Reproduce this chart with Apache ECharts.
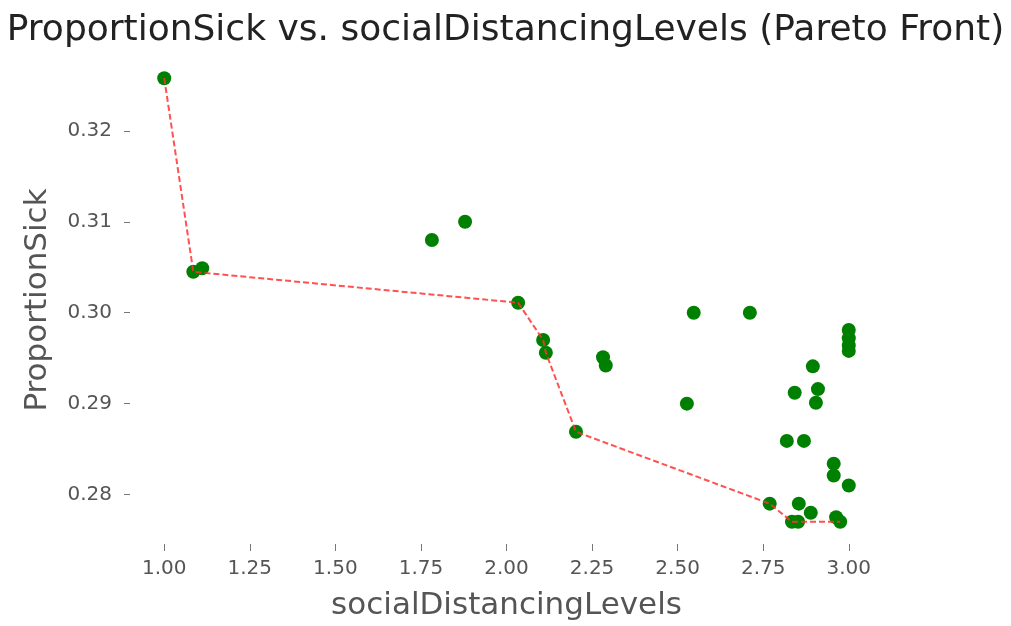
<!DOCTYPE html>
<html>
<head>
<meta charset="utf-8">
<script src="https://cdn.jsdelivr.net/npm/echarts@6/dist/echarts.min.js"></script>
<style>html,body{margin:0;padding:0;background:#fff;}#c{width:1011px;height:626px;}</style>
</head>
<body>
<div id="c"></div>
<script>
const titleText = "ProportionSick vs. socialDistancingLevels (Pareto Front)";
const xName = "socialDistancingLevels";
const yName = "ProportionSick";

const socialDistancing = [1.000, 1.085, 1.111, 1.782, 1.879, 2.034, 2.107, 2.115, 2.282, 2.290,
  2.527, 2.547, 2.711, 2.203, 2.769, 2.842, 2.819, 2.869, 2.895, 2.910, 2.904,
  3.000, 3.000, 3.000, 3.000, 2.956, 2.956, 3.000, 2.854, 2.889, 2.834, 2.852, 2.963, 2.975];
const proportionSick = [0.3258, 0.3045, 0.3049, 0.3080, 0.3100, 0.3011, 0.2970, 0.2956, 0.2951, 0.2942,
  0.2900, 0.3000, 0.3000, 0.2869, 0.2790, 0.2912, 0.2859, 0.2859, 0.2941, 0.2916, 0.2901,
  0.2981, 0.2972, 0.2964, 0.2958, 0.2834, 0.2821, 0.2810, 0.2790, 0.2780, 0.2770, 0.2770, 0.2775, 0.2770];

const paretoX = [1.000, 1.085, 2.034, 2.107, 2.115, 2.203, 2.769, 2.834, 2.975];
const paretoY = [0.3258, 0.3045, 0.3011, 0.2970, 0.2956, 0.2869, 0.2790, 0.2770, 0.2770];

const xTicks = [1.00, 1.25, 1.50, 1.75, 2.00, 2.25, 2.50, 2.75, 3.00];
const yTicks = [0.28, 0.29, 0.30, 0.31, 0.32];

const chart = echarts.init(document.getElementById('c'));
const font = 'DejaVu Sans';
chart.setOption({
  animation: false,
  backgroundColor: '#fff',
  title: {
    text: titleText, left: 'center', top: 8,
    textStyle: {fontFamily: font, fontSize: 36, fontWeight: 'normal', color: '#222'}
  },
  grid: {left: 130, right: 128, top: 56, bottom: 81},
  xAxis: {
    type: 'value', min: 0.9, max: 3.1,
    name: xName, nameLocation: 'middle', nameGap: 46,
    nameTextStyle: {fontFamily: font, fontSize: 31, color: '#555'},
    axisLine: {show: false},
    splitLine: {show: false},
    axisTick: {show: true, length: 7, customValues: xTicks, lineStyle: {color: '#777'}},
    axisLabel: {customValues: xTicks, margin: 15, fontFamily: font, fontSize: 20, color: '#555',
      formatter: v => v.toFixed(2)}
  },
  yAxis: {
    type: 'value', min: 0.27456, max: 0.32824,
    name: yName, nameLocation: 'middle', nameGap: 77,
    nameTextStyle: {fontFamily: font, fontSize: 31, color: '#555'},
    axisLine: {show: false},
    splitLine: {show: false},
    axisTick: {show: true, length: 6, customValues: yTicks, lineStyle: {color: '#777'}},
    axisLabel: {customValues: yTicks, margin: 18, fontFamily: font, fontSize: 20, color: '#555',
      formatter: v => v.toFixed(2)}
  },
  series: [
    {
      type: 'scatter', symbolSize: 14, z: 2,
      itemStyle: {color: '#008000', opacity: 1},
      data: socialDistancing.map((x, i) => [x, proportionSick[i]])
    },
    {
      type: 'line', symbol: 'none', z: 3,
      lineStyle: {color: 'rgba(255,50,50,0.85)', width: 2, type: [6, 3]},
      data: paretoX.map((x, i) => [x, paretoY[i]])
    }
  ]
});
</script>
</body>
</html>
